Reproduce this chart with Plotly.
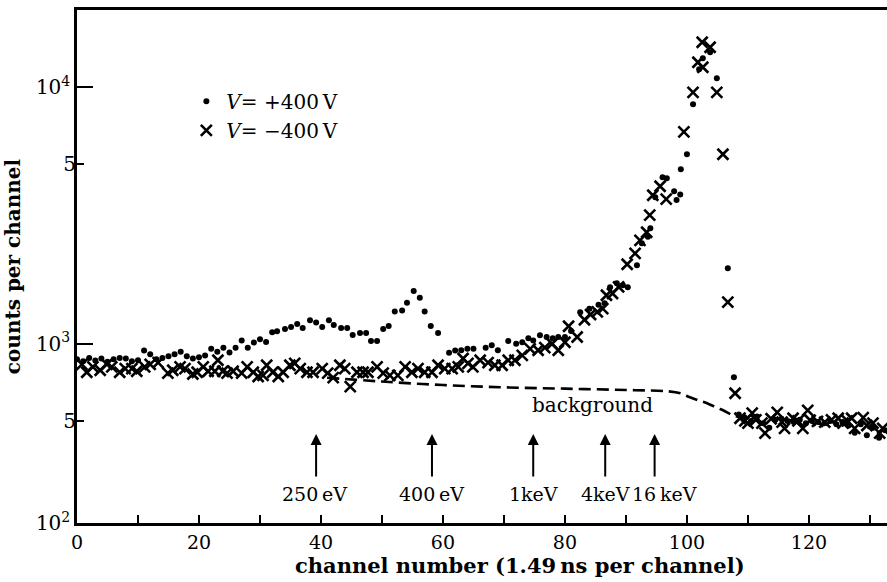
import math
import plotly.graph_objects as go

# V = +400 V (dots)
dot_ch = [0, 1, 2, 3, 4, 5, 6, 7, 8, 9, 10, 11, 12, 13, 14, 15, 16, 17, 18, 19,
          20, 21, 22, 23, 24, 25, 26, 27, 28, 29, 30, 31,
          32, 32.8, 34.1, 35.1, 36.1, 37, 38.2, 39.2, 40.2, 41.3, 42.1, 43.3, 44.3, 45.2,
          46.4, 47.4, 48.2, 49.2, 50.2, 51.1, 52.1, 53.3, 54.1, 55.2, 56.2, 57, 58, 59.2,
          61, 62, 63, 64, 65, 67, 68, 69, 70.7, 72, 73, 74, 74.8, 75.9, 77, 78, 78.9, 80,
          81, 82.5, 84, 85.5, 86.5, 87.4, 88.5, 89.5, 90.3, 91.8, 92.6, 93.6, 94, 94.8,
          96, 96.7, 97.9, 98.3, 98.9, 99, 100, 101, 102, 102.6, 103.8, 104.9, 106.7, 107.7,
          108.5, 109.5, 110.5, 111.5, 112.5, 113.5, 114.5, 115.5, 116.5, 117.5, 118.5,
          119.5, 120.5, 121.5, 122.5, 123.5, 124.5, 125.5, 126.5, 127.5, 128.5, 129.5,
          130.5, 131.5, 132.5]
dot_counts = [870, 855, 880, 860, 875, 850, 870, 880, 876, 855, 862, 940, 910, 870, 880, 893,
              910, 930, 893, 876, 885, 900, 955, 930, 965, 925, 965, 1030, 965, 1010, 1040, 1015,
              1108, 1118, 1140, 1162, 1193, 1151, 1234, 1210, 1162, 1234, 1183, 1151, 1151, 1082,
              1101, 1101, 1025, 1025, 1140, 1172, 1335, 1347, 1444, 1606, 1510, 1335, 1172, 1101,
              923, 940, 943, 955, 955, 965, 986, 943, 1025, 1000, 1013, 1050, 1030, 1078, 1062,
              1050, 1062, 1062,
              1120, 1327, 1370, 1420, 1438, 1660, 1720, 1690, 1660, 2022, 2464, 2610, 2818, 3723,
              4457, 4420, 3930, 3630, 3820, 4790, 5480, 8580, 11750, 12970, 13690, 10840, 1968, 740,
              530, 515, 500, 520, 490, 470, 505, 510, 500, 495, 505,
              490, 500, 495, 490, 500, 485, 495, 480, 450, 485, 440,
              470, 430, 460]

# V = -400 V (crosses)
cross_ch = [0.8, 1.6, 2.6, 3.8, 4.9, 5.7, 7, 7.9, 9, 9.8, 11.1, 12, 13.3, 14.9, 15.7, 16.9,
            17.7, 19, 19.7, 20.7, 21.5, 22.6, 23.1, 23.9, 24.6, 25.6, 27, 27.9, 28.9, 29.7,
            30.5, 31.1, 32.1, 33, 33.8, 34.9, 35.7, 36.6, 37.7, 38.7,
            40.2, 41.1, 42, 43.1, 43.9, 44.8, 45.9, 46.9, 47.7, 49.2, 50.2, 51.3, 52.6, 53.8,
            54.9, 55.9, 57, 58.2, 59.2, 60.3, 61.5, 62.5, 63.3, 64.1, 64.9, 66.1, 67.4, 68.5,
            69.7, 70.7, 71.8, 73, 74.3, 75.6, 76.7, 77.9, 78.9, 80, 80.6, 82, 83.2, 84.2, 85.3,
            86.2, 86.8, 87.8, 88.8, 90.2, 91.5, 92.3, 93.4, 93.9, 94.4, 95.6, 96.6, 99.5, 101,
            101.8, 102.6, 102.5, 103.8, 104.9, 105.9, 106.7, 107.9,
            108.7, 109.5, 110, 110.7, 111.3, 112.3, 112.8, 113.8, 114.8, 115.6, 116, 117.4,
            118.2, 119, 119.8, 120.2, 121.4, 122.6, 123.7, 124.8, 125.6, 126.3, 127, 127.5,
            128.9, 129.5, 130.5, 131.6, 132.1]
cross_counts = [831, 774, 812, 788, 831, 812, 774, 800, 800, 781, 812, 831, 844, 768, 788, 812,
                800, 762, 774, 812, 781, 781, 862, 781, 768, 781, 768, 812, 774, 745,
                753, 824, 774, 745, 774, 824, 838, 800, 774, 774,
                800, 768, 738, 824, 800, 680, 774, 774, 774, 812, 768, 753, 753, 812,
                774, 800, 774, 774, 824, 800, 800, 812, 876, 838, 812, 862, 844, 824,
                824, 862, 862, 901, 955, 943, 965, 1000, 943, 1013, 1170, 1062, 1240, 1300, 1330,
                1370, 1545, 1570, 1665, 2040, 2250, 2530, 2720, 3170, 3790, 4110, 3660, 6700, 9550,
                12510, 11960, 14970, 14310, 9550, 5480, 1452, 641,
                512, 500, 490, 536, 505, 490, 448, 510, 540, 495, 468, 512,
                500, 468, 550, 503, 498, 495, 505, 512, 490, 500, 512, 468,
                515, 480, 490, 448, 468]

# background estimate (dashed)
bg_ch = [41, 50, 60, 70, 80, 90, 97, 99, 100.5, 102, 103.3, 105, 106, 107.5, 109]
bg_counts = [737, 712, 690, 676, 668, 660, 652, 640, 618, 600, 586, 562, 549, 526, 515]

# energy markers
arrow_ch = [39.2, 58.2, 74.8, 86.6, 94.7]
arrow_labels = ["250\u2009eV", "400\u2009eV", "1keV", "4keV", "16\u2009keV"]
label_ch = [39.0, 58.2, 74.8, 86.6, 96.4]
arrow_tip_counts = 445

assert len(dot_ch) == len(dot_counts)
assert len(cross_ch) == len(cross_counts)

FONT = "DejaVu Serif"

fig = go.Figure()
fig.add_trace(go.Scatter(
    x=dot_ch, y=dot_counts, mode="markers", name="<i>V</i>= +400\u2009V",
    marker=dict(symbol="circle", size=6, color="black"), cliponaxis=False))
fig.add_trace(go.Scatter(
    x=cross_ch, y=cross_counts, mode="markers", name="<i>V</i>= \u2212400\u2009V",
    marker=dict(symbol="x-thin", size=11, color="black",
                line=dict(color="black", width=2.6)), cliponaxis=False))
fig.add_trace(go.Scatter(
    x=bg_ch, y=bg_counts, mode="lines", showlegend=False,
    line=dict(color="black", width=2.6, dash="12px,6px", shape="spline")))
# carrier for the minor labelled ticks ("5")
fig.add_trace(go.Scatter(x=[None], y=[None], yaxis="y2", showlegend=False))

tip = math.log10(arrow_tip_counts)
for ch in arrow_ch:
    fig.add_annotation(x=ch, y=tip, text="", showarrow=True, arrowhead=2,
                       arrowsize=1.1, arrowwidth=2, arrowcolor="black",
                       ax=0, ay=44)
for ch, lab in zip(label_ch, arrow_labels):
    fig.add_annotation(x=ch, y=tip, yshift=-60, text=lab, showarrow=False,
                       font=dict(family=FONT, size=19, color="black"))

fig.add_annotation(x=84.5, y=math.log10(578), text="background",
                   showarrow=False, font=dict(family=FONT, size=20, color="black"))

# x-axis title (placed right of centre, as in the original)
fig.add_annotation(xref="paper", yref="paper", x=0.547, y=-0.082,
                   xanchor="center", yanchor="middle", showarrow=False,
                   text="<b>channel number (1.49\u2009ns per channel)</b>",
                   font=dict(family=FONT, size=21, color="black"))

yr = [math.log10(200), math.log10(20000)]

fig.update_layout(
    width=887, height=582,
    margin=dict(l=77, r=0, t=10, b=59),
    paper_bgcolor="white", plot_bgcolor="white",
    font=dict(family=FONT, size=18, color="black"),
    showlegend=True,
    legend=dict(x=0.135, y=0.86, xanchor="left", yanchor="top",
                bgcolor="rgba(0,0,0,0)", itemwidth=30, tracegroupgap=0,
                font=dict(family=FONT, size=20, color="black")),
    xaxis=dict(range=[0, 132.8], showgrid=False, zeroline=False,
               showline=True, linecolor="black", linewidth=2.5, mirror=True,
               ticks="inside", ticklen=8, tickwidth=1.5, tickcolor="black",
               dtick=20, tick0=0,
               minor=dict(dtick=10, tick0=0, ticks="inside", ticklen=8,
                          tickwidth=1.5, tickcolor="black"),
               tickfont=dict(family=FONT, size=19)),
    yaxis=dict(type="log", range=yr, showgrid=False, zeroline=False,
               showline=True, linecolor="black", linewidth=2.5,
               ticks="inside", ticklen=16, tickwidth=2, tickcolor="black",
               tickmode="array", tickvals=[200, 1000, 10000],
               ticktext=["10<sup>2</sup>", "10<sup>3</sup>", "10<sup>4</sup>"],
               tickfont=dict(family=FONT, size=20),
               title=dict(text="counts per channel",
                          font=dict(family=FONT, size=20, weight="bold"), standoff=10)),
    yaxis2=dict(type="log", range=yr, overlaying="y", side="left", anchor="x",
                showgrid=False, zeroline=False, showline=False,
                ticks="inside", ticklen=7, tickwidth=2, tickcolor="black",
                tickmode="array", tickvals=[500, 5000], ticktext=["5", "5"],
                tickfont=dict(family=FONT, size=20)),
)

fig.write_html("out.html")
